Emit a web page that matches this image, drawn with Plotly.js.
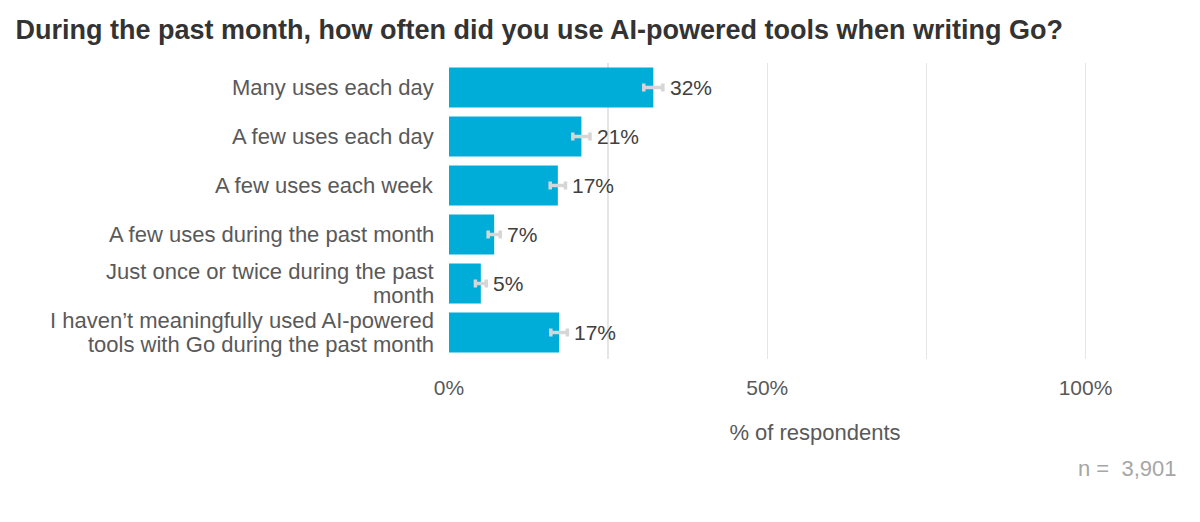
<!DOCTYPE html>
<html>
<head>
<meta charset="utf-8">
<script src="https://cdn.plot.ly/plotly-3.0.1.min.js"></script>
<style>html,body{margin:0;padding:0;background:#fff;}#chart{width:1200px;height:522px;}</style>
</head>
<body>
<div id="chart"></div>
<script>
const categories = [
  "Many uses each day",
  "A few uses each day",
  "A few uses each week",
  "A few uses during the past month",
  "Just once or twice during the past month",
  "I haven’t meaningfully used AI-powered tools with Go during the past month"
];
const categoryLines = [
  ["Many uses each day"],
  ["A few uses each day"],
  ["A few uses each week"],
  ["A few uses during the past month"],
  ["Just once or twice during the past", "month"],
  ["I haven’t meaningfully used AI-powered", "tools with Go during the past month"]
];
const values = [32.1, 20.8, 17.1, 7.1, 5.0, 17.3];
const errors = [1.5, 1.35, 1.2, 0.95, 0.85, 1.3];
const valueLabels = ["32%", "21%", "17%", "7%", "5%", "17%"];
const tickVals = [0, 50, 100];
const tickText = ["0%", "50%", "100%"];

const font = "Liberation Sans, Arial, sans-serif";

const bars = {
  type: 'bar',
  orientation: 'h',
  y: categories,
  x: values,
  marker: {color: '#00ADD8'},
  error_x: {type: 'data', array: errors, visible: true, color: '#d6d6d6', thickness: 3.5, width: 4},
  hoverinfo: 'none'
};

const labelAnnotations = categories.map((c, i) => ({
  x: values[i] + errors[i], y: c, xref: 'x', yref: 'y',
  text: valueLabels[i], showarrow: false,
  xanchor: 'left', yanchor: 'middle', xshift: 5,
  font: {family: font, size: 21, color: '#404040'}
}));

const categoryAnnotations = [];
categories.forEach((c, i) => {
  const lines = categoryLines[i];
  lines.forEach((line, j) => {
    categoryAnnotations.push({
      x: 0, xref: 'paper', y: c, yref: 'y',
      text: line, showarrow: false,
      xanchor: 'right', yanchor: 'middle', xshift: -13,
      yshift: ((lines.length - 1) / 2 - j) * 24,
      font: {family: font, size: 22, color: '#595959'}
    });
  });
});

const layout = {
  width: 1200, height: 522,
  margin: {l: 449, r: 19, t: 63, b: 163},
  paper_bgcolor: '#fff', plot_bgcolor: '#fff',
  showlegend: false,
  bargap: 0.18,
  font: {family: font},
  title: {text: '<b>During the past month, how often did you use AI-powered tools when writing Go?</b>',
          font: {family: font, size: 27, color: '#333333'}, x: 0.013, xanchor: 'left', y: 0.943, yanchor: 'middle'},
  xaxis: {
    range: [0, 115],
    tickvals: tickVals, ticktext: tickText,
    tickfont: {size: 21, color: '#595959'},
    showgrid: true, gridcolor: '#e5e5e5', gridwidth: 1.5,
    minor: {tickvals: [25, 75], showgrid: true, gridcolor: '#e5e5e5', gridwidth: 1.5},
    zeroline: false, showline: false,
    ticklabelstandoff: 14,
    title: {text: '% of respondents', font: {size: 22, color: '#595959'}, standoff: 26},
    fixedrange: true
  },
  yaxis: {
    autorange: 'reversed',
    showticklabels: false,
    showgrid: false, zeroline: false, showline: false,
    fixedrange: true
  },
  annotations: labelAnnotations.concat(categoryAnnotations, [{
    text: 'n =  3,901', xref: 'paper', yref: 'paper', x: 1, xshift: -3, y: -0.37,
    xanchor: 'right', yanchor: 'middle', showarrow: false,
    font: {family: font, size: 22, color: '#a6a6a6'}
  }])
};

Plotly.newPlot('chart', [bars], layout, {displayModeBar: false, staticPlot: true});
</script>
</body>
</html>
